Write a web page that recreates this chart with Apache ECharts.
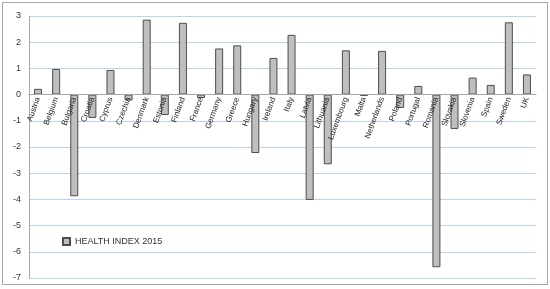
<!DOCTYPE html>
<html>
<head>
<meta charset="utf-8">
<script src="https://cdn.jsdelivr.net/npm/echarts@6/dist/echarts.min.js"></script>
<style>
  html, body { margin: 0; padding: 0; background: #fff; }
  #frame { position: absolute; left: 2px; top: 2px; width: 544px; height: 281px; border: 1px solid #a6a6a6; }
  #main { position: absolute; left: 0; top: 0; width: 550px; height: 289px; }
</style>
</head>
<body>
<div id="frame"></div>
<div id="main"></div>
<script>
  // countries along the x axis
  const countries = ["Austria", "Belgium", "Bulgaria", "Croatia", "Cyprus", "Czechia", "Denmark",
    "Estonia", "Finland", "France", "Germany", "Greece", "Hungary", "Ireland", "Italy", "Latvia",
    "Lithuania", "Luxembourg", "Malta", "Netherlands", "Poland", "Portugal", "Romania", "Slovakia",
    "Slovenia", "Spain", "Sweden", "UK"];
  // health index values
  const healthIndex2015 = [0.22, 0.98, -3.88, -0.89, 0.94, -0.22, 2.86,
    -0.78, 2.74, -0.13, 1.76, 1.88, -2.23, 1.40, 2.28, -4.02,
    -2.66, 1.69, -0.05, 1.67, -0.51, 0.33, -6.59, -1.31,
    0.65, 0.37, 2.76, 0.77];
  const seriesName = "HEALTH INDEX 2015";
  const yMin = -7, yMax = 3;

  const gridTop = 16, gridBottom = 11, chartH = 289;
  // move the category axis up to the zero line (onZero did not take effect)
  const plotH = chartH - gridTop - gridBottom;
  const zeroOffset = -plotH * (0 - yMin) / (yMax - yMin);

  const myChart = echarts.init(document.getElementById("main"));
  const option = {
    animation: false,
    textStyle: { fontFamily: "Liberation Sans, Arial, sans-serif" },
    grid: { left: 29, right: 14, top: gridTop, bottom: gridBottom, outerBoundsMode: "none" },
    legend: {
      left: 57, top: 232,
      itemWidth: 7, itemHeight: 7, itemGap: 4,
      icon: "rect",
      textStyle: { fontSize: 9, color: "#333" },
      data: [seriesName]
    },
    xAxis: {
      type: "category",
      data: countries,
      position: "bottom",
      offset: zeroOffset,
      z: 5,
      axisLine: { onZero: false, lineStyle: { color: "#a6a6a6" } },
      axisTick: { length: 3, lineStyle: { color: "#a6a6a6" } },
      axisLabel: { rotate: 70, fontSize: 8, color: "#222", margin: 3, interval: 0 }
    },
    yAxis: {
      type: "value",
      min: yMin, max: yMax, interval: 1,
      axisLine: { show: true, lineStyle: { color: "#a6a6a6" } },
      axisTick: { show: false },
      axisLabel: { fontSize: 9, color: "#333", margin: 8 },
      splitLine: { lineStyle: { color: "#bcd2ee", width: 1 } }
    },
    series: [{
      name: seriesName,
      type: "bar",
      data: healthIndex2015,
      barWidth: 8,
      itemStyle: { color: "#bfbfbf", borderColor: "#4d4d4d", borderWidth: 1 }
    }]
  };
  option && myChart.setOption(option);
</script>
</body>
</html>
